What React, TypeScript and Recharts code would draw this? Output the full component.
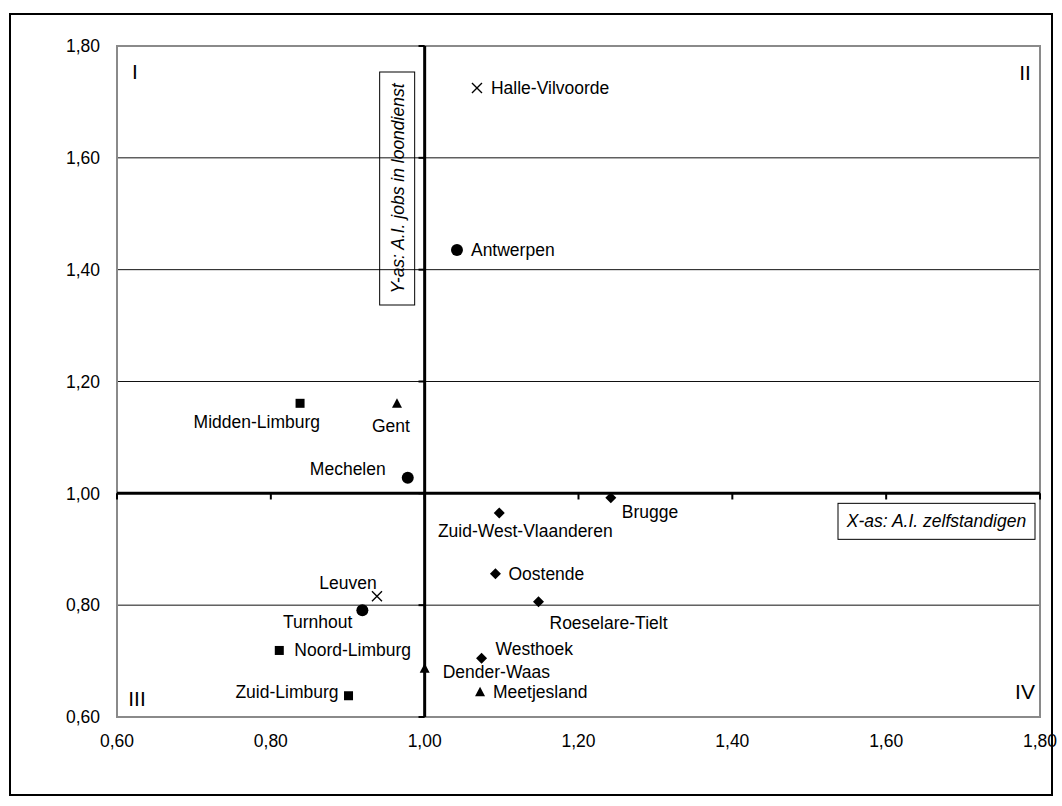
import React from 'react';
import { ScatterChart, Scatter, XAxis, YAxis, CartesianGrid, ReferenceLine, ReferenceArea } from 'recharts';

// Regio's met hun A.I. (zelfstandigen op X, jobs in loondienst op Y)
const regions = [
  'Halle-Vilvoorde', 'Leuven',
  'Antwerpen', 'Mechelen', 'Turnhout',
  'Midden-Limburg', 'Noord-Limburg', 'Zuid-Limburg',
  'Gent', 'Dender-Waas', 'Meetjesland',
  'Brugge', 'Zuid-West-Vlaanderen', 'Oostende', 'Roeselare-Tielt', 'Westhoek',
];
const selfEmployedAI = [1.068, 0.938, 1.042, 0.978, 0.919, 0.838, 0.811, 0.901, 0.964, 1.0, 1.072, 1.242, 1.097, 1.092, 1.148, 1.074];
const wageJobsAI = [1.725, 0.816, 1.435, 1.028, 0.791, 1.161, 0.719, 0.638, 1.161, 0.687, 0.645, 0.992, 0.965, 0.856, 0.806, 0.705];
const markers = ['cross', 'cross', 'circle', 'circle', 'circle', 'square', 'square', 'square', 'triangle', 'triangle', 'triangle', 'diamond', 'diamond', 'diamond', 'diamond', 'diamond'];

const axisTicks = [0.6, 0.8, 1.0, 1.2, 1.4, 1.6, 1.8];
const gridValues = [0.8, 1.2, 1.4, 1.6];
const quadrants = ['I', 'II', 'III', 'IV'];
const seriesKinds = ['diamond', 'square', 'triangle', 'cross', 'circle'];

// label offset (px) from the marker: dx, dy, anchor
const labelPlacement: Record<string, [number, number, 'start' | 'middle' | 'end']> = {
  'Halle-Vilvoorde': [14, 0, 'start'],
  'Leuven': [-29, -13, 'middle'],
  'Antwerpen': [14, 0, 'start'],
  'Mechelen': [-22, -9, 'end'],
  'Turnhout': [-10, 12, 'end'],
  'Midden-Limburg': [20, 19, 'end'],
  'Noord-Limburg': [15, 0, 'start'],
  'Zuid-Limburg': [-10, -4, 'end'],
  'Gent': [-6, 23, 'middle'],
  'Dender-Waas': [18, 4, 'start'],
  'Meetjesland': [13, 0, 'start'],
  'Brugge': [11, 14, 'start'],
  'Zuid-West-Vlaanderen': [26, 18, 'middle'],
  'Oostende': [13, 0, 'start'],
  'Roeselare-Tielt': [11, 21, 'start'],
  'Westhoek': [14, -9, 'start'],
};

const FONT = 'Liberation Sans, Arial, Helvetica, sans-serif';
const LABEL_SIZE = 17.5;
const fmt = (v: number) => v.toFixed(2).replace('.', ',');

const points = regions.map((name, i) => ({ name, x: selfEmployedAI[i], y: wageJobsAI[i], kind: markers[i] }));

const drawMarker = (kind: string, cx: number, cy: number) => {
  switch (kind) {
    case 'circle':
      return <circle cx={cx} cy={cy} r={6} fill="#000" />;
    case 'square':
      return <rect x={cx - 4.5} y={cy - 4.5} width={9} height={9} fill="#000" />;
    case 'triangle':
      return <polygon points={`${cx},${cy - 5} ${cx + 5},${cy + 4.5} ${cx - 5},${cy + 4.5}`} fill="#000" />;
    case 'diamond':
      return <polygon points={`${cx},${cy - 5.5} ${cx + 5.5},${cy} ${cx},${cy + 5.5} ${cx - 5.5},${cy}`} fill="#000" />;
    default:
      return (
        <g stroke="#000" strokeWidth={1.3}>
          <line x1={cx - 5} y1={cy - 5} x2={cx + 5} y2={cy + 5} />
          <line x1={cx - 5} y1={cy + 5} x2={cx + 5} y2={cy - 5} />
        </g>
      );
  }
};

const makeShape = (kind: string) => (props: any) => {
  const { cx, cy, payload } = props;
  const [dx, dy, anchor] = labelPlacement[payload.name] || [12, 0, 'start'];
  return (
    <g>
      {drawMarker(kind, cx, cy)}
      <text x={cx + dx} y={cy + dy} textAnchor={anchor} dominantBaseline="central" fontSize={LABEL_SIZE} fontFamily={FONT} fill="#000">
        {payload.name}
      </text>
    </g>
  );
};

const YTitle = (props: any) => {
  const { x, y } = props.viewBox;
  const bx = x - 45, by = y + 26, w = 35, h = 233;
  return (
    <g>
      <rect x={bx} y={by} width={w} height={h} fill="none" stroke="#000" strokeWidth={1} />
      <text transform={`translate(${bx + w / 2 + 1}, ${by + h / 2}) rotate(-90)`} textAnchor="middle" dominantBaseline="central"
        fontStyle="italic" fontSize={LABEL_SIZE} fontFamily={FONT} fill="#000">
        Y-as: A.I. jobs in loondienst
      </text>
    </g>
  );
};

const XTitle = (props: any) => {
  const { x, y, width } = props.viewBox;
  const w = 197, h = 36;
  const bx = x + width - 5 - w, by = y + 10;
  return (
    <g>
      <rect x={bx} y={by} width={w} height={h} fill="#fff" stroke="#000" strokeWidth={1} />
      <text x={bx + w / 2} y={by + h / 2} textAnchor="middle" dominantBaseline="central"
        fontStyle="italic" fontSize={LABEL_SIZE} fontFamily={FONT} fill="#000">
        X-as: A.I. zelfstandigen
      </text>
    </g>
  );
};

const QuadrantLabels = (props: any) => {
  const { x, y, width, height } = props.viewBox;
  const spots = [
    [x + 18, y + 25],
    [x + width - 15, y + 26],
    [x + 20, y + height - 19],
    [x + width - 15, y + height - 26],
  ];
  return (
    <g>
      {quadrants.map((q, i) => (
        <text key={q} x={spots[i][0]} y={spots[i][1]} textAnchor="middle" dominantBaseline="central" fontSize={21} fontFamily={FONT} fill="#000">
          {q}
        </text>
      ))}
    </g>
  );
};

export default function App() {
  return (
    <div>
      <div style={{ position: 'absolute', left: 9, top: 13, width: 1044, height: 783, border: '2px solid #000', boxSizing: 'border-box' }} />
      <div style={{ position: 'absolute', left: 0, top: 0 }}>
        <ScatterChart width={1062} height={806} margin={{ top: 46, right: 22, bottom: 49, left: 57 }} style={{ fontFamily: FONT }}>
          <CartesianGrid vertical={false} horizontalValues={gridValues} stroke="#111" strokeWidth={1} />
          <XAxis type="number" dataKey="x" domain={[0.6, 1.8]} ticks={axisTicks} tickFormatter={fmt} axisLine={false} tickLine={false}
            tickMargin={12} height={40} tick={{ fill: '#000', fontSize: LABEL_SIZE, fontFamily: FONT }} />
          <YAxis type="number" dataKey="y" domain={[0.6, 1.8]} ticks={axisTicks} tickFormatter={fmt} axisLine={false} tickLine={false}
            tickMargin={11} width={60} tick={{ fill: '#000', fontSize: LABEL_SIZE, fontFamily: FONT }} />
          <ReferenceArea x1={0.6} x2={1.8} y1={0.6} y2={1.8} fill="none" stroke="#8a8a8a" strokeWidth={2} label={QuadrantLabels} />
          <ReferenceLine x={1} stroke="#000" strokeWidth={3} label={YTitle} />
          <ReferenceLine y={1} stroke="#000" strokeWidth={3} label={XTitle} />
          {axisTicks.map((t) => (
            <ReferenceLine key={`xt${t}`} segment={[{ x: t, y: 1 }, { x: t, y: 0.989 }]} stroke="#000" strokeWidth={2} />
          ))}
          {axisTicks.map((t) => (
            <ReferenceLine key={`yt${t}`} segment={[{ x: 0.992, y: t }, { x: 1, y: t }]} stroke="#000" strokeWidth={2} />
          ))}
          {seriesKinds.map((kind) => (
            <Scatter key={kind} data={points.filter((p) => p.kind === kind)} shape={makeShape(kind)} isAnimationActive={false} />
          ))}
        </ScatterChart>
      </div>
    </div>
  );
}
